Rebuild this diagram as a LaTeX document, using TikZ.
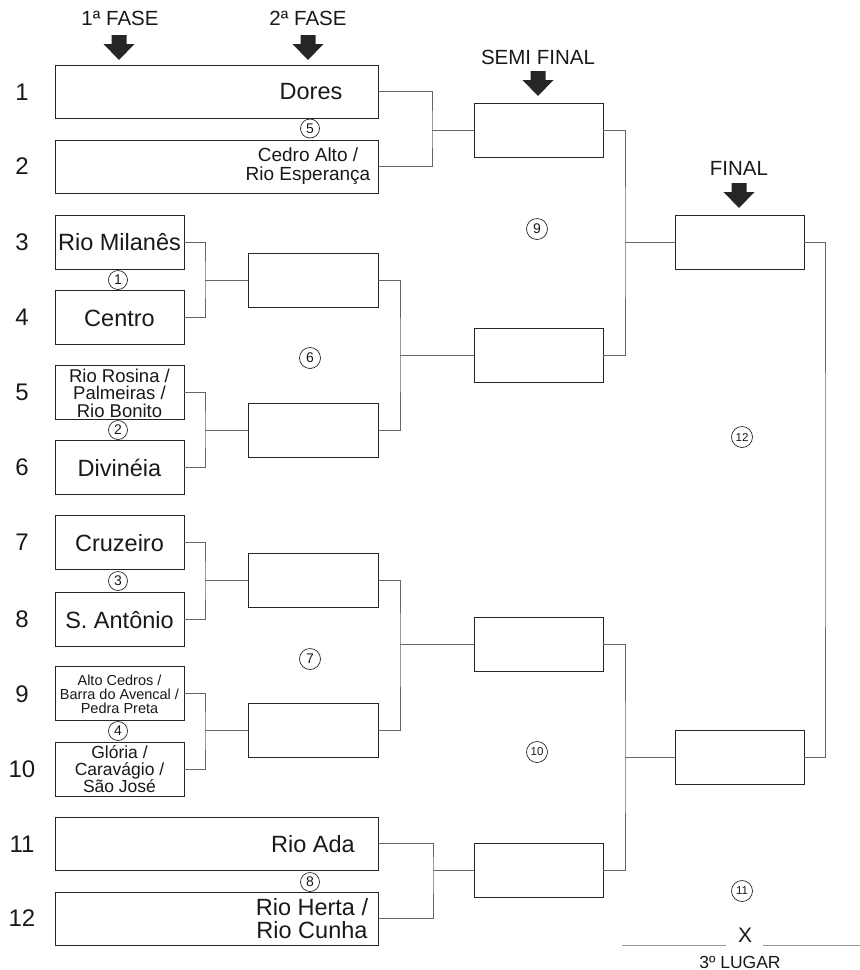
\documentclass[tikz,border=0pt]{standalone}
\usepackage{fontspec}
\setmainfont{Liberation Sans}
\begin{document}
\begin{tikzpicture}[x=1pt,y=-1pt,
  box/.style={draw=black!85, line width=0.95pt, fill=white, inner sep=0pt, minimum height=54pt},
  wbox/.style={box, minimum width=323pt},
  nbox/.style={box, minimum width=129pt},
  conn/.style={draw=black!60, line width=0.95pt},
  lbl/.style={inner sep=0pt, align=center, text=black!90},
  big/.style={lbl, font=\fontsize{23.5}{24}\selectfont},
  mid/.style={lbl, font=\fontsize{18.5}{17.5}\selectfont},
  sml/.style={lbl, font=\fontsize{14.5}{14}\selectfont},
  head/.style={lbl, font=\fontsize{20.5}{21}\selectfont},
  circ/.style={circle, draw=black!85, line width=0.7pt, inner sep=0pt, minimum size=21pt, text=black!90, font=\fontsize{14}{14}\selectfont},
  circs/.style={circ, font=\fontsize{11.5}{11.5}\selectfont},
  blockarrow/.pic={\fill[black!85] (-7.5,0) -- (7.5,0) -- (7.5,9) -- (15.5,9) -- (0,25) -- (-15.5,9) -- (-7.5,9) -- cycle;}
]
\useasboundingbox (0,0) rectangle (860,970);

% headers
\node[head] (h1) at (120,18) {1ª FASE};
\node[head] (h2) at (308,18) {2ª FASE};
\node[head] (h3) at (538,57) {SEMI FINAL};
\node[head] (h4) at (739,168) {FINAL};
\pic at (119,35) {blockarrow};
\pic at (308,35) {blockarrow};
\pic at (538,71) {blockarrow};
\pic at (739,183) {blockarrow};

% row numbers
\foreach \n/\y in {1/92,2/166,3/242,4/317,5/392,6/467,7/542,8/619,9/694,10/769,11/844,12/918}
  \node[lbl, font=\fontsize{24}{24}\selectfont] (r\n) at (22,\y) {\n};

% first-phase boxes
\node[wbox, minimum height=53pt] (b1) at (216.5,91.5) {};
\node[wbox, minimum height=53pt] (b2) at (216.5,166.5) {};
\node[nbox] (b3) at (119.5,242) {};
\node[nbox] (b4) at (119.5,317.5) {};
\node[nbox] (b5) at (119.5,392.5) {};
\node[nbox] (b6) at (119.5,467.5) {};
\node[nbox] (b7) at (119.5,542.5) {};
\node[nbox] (b8) at (119.5,619.5) {};
\node[nbox] (b9) at (119.5,693.5) {};
\node[nbox] (b10) at (119.5,769) {};
\node[wbox, minimum height=53pt] (b11) at (216.5,843.5) {};
\node[wbox, minimum height=53pt] (b12) at (216.5,918.5) {};

% texts
\node[big] (t1) at (311,92) {Dores};
\node[lbl, font=\fontsize{19}{19}\selectfont] (t2) at (308,166) {Cedro Alto /\\Rio Esperança};
\node[big] (t3) at (119.5,242) {Rio Milanês};
\node[big] (t4) at (119.5,318) {Centro};
\node[mid] (t5) at (119.5,393) {Rio Rosina /\\Palmeiras /\\Rio Bonito};
\node[big] (t6) at (119.5,468) {Divinéia};
\node[big] (t7) at (119.5,543) {Cruzeiro};
\node[big] (t8) at (119.5,620) {S. Antônio};
\node[sml] (t9) at (119.5,694) {Alto Cedros /\\Barra do Avencal /\\Pedra Preta};
\node[lbl, font=\fontsize{17.5}{17}\selectfont] (t10) at (119.5,769.5) {Glória /\\Caravágio /\\São José};
\node[big] (t11) at (313,844) {Rio Ada};
\node[lbl, font=\fontsize{23.5}{23}\selectfont] (t12) at (312,919) {Rio Herta /\\Rio Cunha};

% second-phase boxes
\node[nbox, minimum width=130pt] (q1) at (313,280) {};
\node[nbox, minimum width=130pt] (q2) at (313,430) {};
\node[nbox, minimum width=130pt] (q3) at (313,580) {};
\node[nbox, minimum width=130pt] (q4) at (313,730.5) {};

% semifinal boxes
\node[nbox] (s1) at (538.5,130) {};
\node[nbox] (s2) at (538.5,355) {};
\node[nbox] (s3) at (538.5,644.5) {};
\node[nbox] (s4) at (538.5,870) {};

% final boxes
\node[nbox] (f1) at (739.5,242.5) {};
\node[nbox] (f2) at (739.5,757) {};

% junctions
\coordinate (j1) at (432,130);
\coordinate (j2) at (205,280);
\coordinate (j3) at (205,430);
\coordinate (j4) at (205,580);
\coordinate (j5) at (205,730.5);
\coordinate (j6) at (433,870);
\coordinate (k1) at (400,355);
\coordinate (k2) at (400,644.5);
\coordinate (m1) at (625,242.5);
\coordinate (m2) at (625,757);
\coordinate (n1) at (825,500);

\draw[conn] (b1.east) -| (j1) |- (b2.east); \draw[conn] (j1) -- (s1.west);
\draw[conn] (b3.east) -| (j2) |- (b4.east); \draw[conn] (j2) -- (q1.west);
\draw[conn] (b5.east) -| (j3) |- (b6.east); \draw[conn] (j3) -- (q2.west);
\draw[conn] (b7.east) -| (j4) |- (b8.east); \draw[conn] (j4) -- (q3.west);
\draw[conn] (b9.east) -| (j5) |- (b10.east); \draw[conn] (j5) -- (q4.west);
\draw[conn] (b11.east) -| (j6) |- (b12.east); \draw[conn] (j6) -- (s4.west);
\draw[conn] (q1.east) -| (k1) |- (q2.east); \draw[conn] (k1) -- (s2.west);
\draw[conn] (q3.east) -| (k2) |- (q4.east); \draw[conn] (k2) -- (s3.west);
\draw[conn] (s1.east) -| (m1) |- (s2.east); \draw[conn] (m1) -- (f1.west);
\draw[conn] (s3.east) -| (m2) |- (s4.east); \draw[conn] (m2) -- (f2.west);
\draw[conn] (f1.east) -| (n1) |- (f2.east);

% circled game numbers
\node[circ, minimum size=19pt] (c5) at (310,128.5) {5};
\node[circ, minimum size=19pt] (c1) at (118,280) {1};
\node[circ, minimum size=19pt] (c2) at (118,430) {2};
\node[circ, minimum size=19pt] (c3) at (118,581) {3};
\node[circ, minimum size=19pt] (c4) at (118,731) {4};
\node[circ, minimum size=19pt] (c8) at (310,882) {8};
\node[circ] (c6) at (310,358) {6};
\node[circ] (c7) at (310,659) {7};
\node[circ] (c9) at (537,229) {9};
\node[circs] (c10) at (537,752) {10};
\node[circs] (c12) at (742,437) {12};
\node[circs] (c11) at (742,891) {11};

% third place
\node[lbl, font=\fontsize{21}{21}\selectfont] (x) at (745,935) {X};
\coordinate (l1) at (622,945);
\coordinate (l2) at (726,945);
\coordinate (l3) at (763,945);
\coordinate (l4) at (860,945);
\draw[black!40, line width=1pt] (l1) -- (l2) (l3) -- (l4);
\node[lbl, font=\fontsize{17.5}{17.5}\selectfont] (tl) at (740,962) {3º LUGAR};
\end{tikzpicture}
\end{document}
